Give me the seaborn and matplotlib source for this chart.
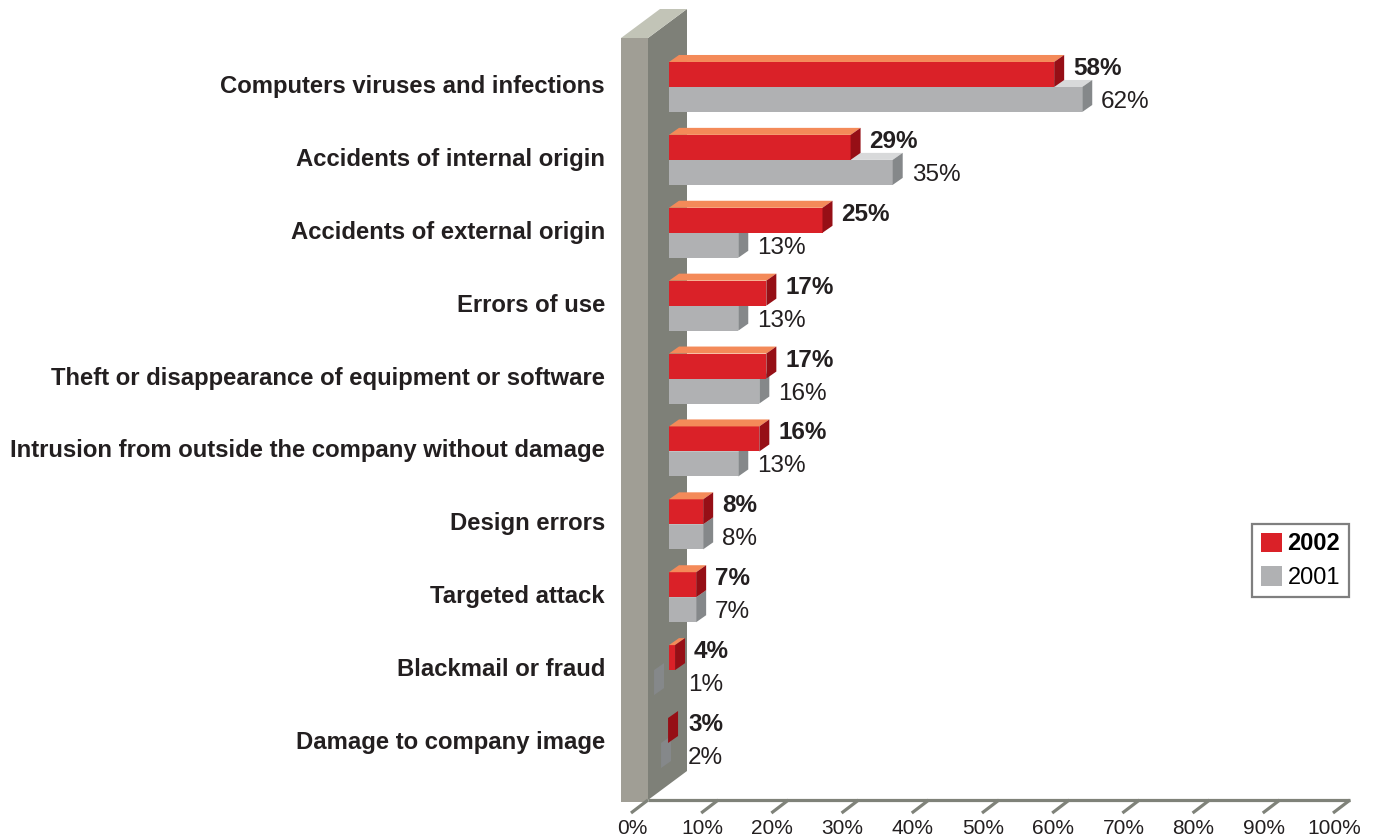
import matplotlib
matplotlib.use("Agg")
import matplotlib.pyplot as plt
import pandas as pd
import seaborn as sns
from matplotlib.patches import Polygon, Patch
from matplotlib.lines import Line2D
from matplotlib.path import Path
from matplotlib.transforms import IdentityTransform, ScaledTranslation

# ---- data ---------------------------------------------------------------
categories = [
    "Computers viruses and infections",
    "Accidents of internal origin",
    "Accidents of external origin",
    "Errors of use",
    "Theft or disappearance of equipment or software",
    "Intrusion from outside the company without damage",
    "Design errors",
    "Targeted attack",
    "Blackmail or fraud",
    "Damage to company image",
]
values_2002 = [58, 29, 25, 17, 17, 16, 8, 7, 4, 3]
values_2001 = [62, 35, 13, 13, 16, 13, 8, 7, 1, 2]
years = ["2002", "2001"]
tick_values = [0, 10, 20, 30, 40, 50, 60, 70, 80, 90, 100]

# ---- styling --------------------------------------------------------------
RED_FRONT, RED_TOP, RED_SIDE = "#da2128", "#f48a59", "#960f16"
GRAY_FRONT, GRAY_TOP, GRAY_SIDE = "#b0b1b3", "#d8d9da", "#85888a"
WALL_FRONT, WALL_SIDE, WALL_TOP = "#a09e95", "#7e8078", "#c2c4b7"
FLOOR = "#7f8279"
TEXT = "#231f20"

sns.set_theme(style="white")
plt.rcParams["font.family"] = ["Liberation Sans", "DejaVu Sans"]

W, H = 1376, 838
fig = plt.figure(figsize=(W / 100, H / 100), dpi=100)
fig.patch.set_facecolor("white")
ax = fig.add_axes([647 / W, 38 / H, 702 / W, 762 / H])

df = pd.DataFrame({
    "category": categories * 2,
    "value": values_2002 + values_2001,
    "year": [years[0]] * len(categories) + [years[1]] * len(categories),
})

sns.barplot(
    data=df, y="category", x="value", hue="year",
    order=categories, hue_order=years, orient="h",
    palette={years[0]: RED_FRONT, years[1]: GRAY_FRONT},
    width=0.686, saturation=1, dodge=True, legend=False,
    linewidth=0, edgecolor="none", ax=ax,
)
bars = list(ax.patches)

ax.set_xlim(0, 100)
ax.set_ylim(9.782, -0.672)
ax.set_facecolor("none")
for s in ax.spines.values():
    s.set_visible(False)
ax.set_xlabel("")
ax.set_ylabel("")
ax.set_xticks([])
ax.set_yticks(range(len(categories)))
ax.set_yticklabels(categories, fontsize=17.2, fontweight="bold", color=TEXT)
ax.tick_params(axis="y", length=0, pad=30.2)
# nudge the category names up a little
for lbl in ax.get_yticklabels():
    lbl.set_transform(lbl.get_transform() +
                      ScaledTranslation(0, 3 / 100, fig.dpi_scale_trans))

ident = IdentityTransform()
X0 = ax.transData.transform((0, 0))[0]          # value zero
Y_FLOOR = ax.transAxes.transform((0, 0))[1]      # floor line
Y_TOP = ax.transAxes.transform((0, 1))[1]        # wall top
X100 = ax.transData.transform((100, 0))[0]

# ---- wall ------------------------------------------------------------------
WDX, WDY = 39, 29
wall_front = Polygon([(X0 - 26, Y_FLOOR - 2), (X0 + 1, Y_FLOOR - 2),
                      (X0 + 1, Y_TOP), (X0 - 26, Y_TOP)],
                     closed=True, transform=ident, facecolor=WALL_FRONT,
                     edgecolor="none", zorder=1, clip_on=False)
wall_side = Polygon([(X0 + 1, Y_FLOOR), (X0 + 1, Y_TOP),
                     (X0 + 1 + WDX, Y_TOP + WDY), (X0 + 1 + WDX, Y_FLOOR + WDY)],
                    closed=True, transform=ident, facecolor=WALL_SIDE,
                    edgecolor="none", zorder=1, clip_on=False)
wall_top = Polygon([(X0 - 26, Y_TOP), (X0 + 1, Y_TOP),
                    (X0 + 1 + WDX, Y_TOP + WDY), (X0 - 26 + WDX, Y_TOP + WDY)],
                   closed=True, transform=ident, facecolor=WALL_TOP,
                   edgecolor="none", zorder=1, clip_on=False)
for p in (wall_front, wall_side, wall_top):
    ax.add_patch(p)

# ---- floor and its ticks ------------------------------------------------
ax.add_line(Line2D([X0 + 1, X100 + 1], [Y_FLOOR, Y_FLOOR], transform=ident,
                   color=FLOOR, lw=2.3, solid_capstyle="butt", zorder=1,
                   clip_on=False))
for v in tick_values:
    xv = ax.transData.transform((v, 0))[0]
    ax.add_line(Line2D([xv + 1, xv - 16], [Y_FLOOR, Y_FLOOR - 13],
                       transform=ident, color=FLOOR, lw=2.3,
                       solid_capstyle="butt", zorder=1, clip_on=False))
    ax.text(xv - 15, Y_FLOOR - 19, f"{v}%", transform=ident, ha="center",
            va="top", fontsize=15, color=TEXT, clip_on=False)

# ---- 3-D bar faces -------------------------------------------------------
DX, DY = 10, 7
X_SIDE = X0 + 22                  # where the bars leave the wall's side face
clip_path = Path([(X_SIDE, -10), (X_SIDE + 4000, -10),
                  (X_SIDE + 4000, 4000), (X_SIDE, 4000), (X_SIDE, -10)],
                 closed=True)

for p in bars:
    bb = p.get_bbox()
    if bb.x1 - bb.x0 <= 0:
        continue
    yc = (bb.y0 + bb.y1) / 2
    is_2002 = yc < round(yc)
    (xa, ya), (xb, yb) = ax.transData.transform([(bb.x0, bb.y0), (bb.x1, bb.y1)])
    Xl, Xr = min(xa, xb), max(xa, xb)
    Yb, Yt = min(ya, yb), max(ya, yb)
    base_z = 3 if is_2002 else 2
    top_c, side_c = (RED_TOP, RED_SIDE) if is_2002 else (GRAY_TOP, GRAY_SIDE)

    p.set_zorder(base_z)
    p.set_clip_path(clip_path, ident)

    # top face starts where the bar comes out of the wall
    Xs = max(Xl, X_SIDE)
    if Xr > Xs:
        top = Polygon([(Xs, Yt), (Xr, Yt), (Xr + DX, Yt + DY), (Xs + DX, Yt + DY)],
                      closed=True, transform=ident, facecolor=top_c,
                      edgecolor="none", zorder=base_z + 0.2, clip_on=False)
        ax.add_patch(top)
    cap = Polygon([(Xr, Yb), (Xr, Yt), (Xr + DX, Yt + DY), (Xr + DX, Yb + DY)],
                  closed=True, transform=ident, facecolor=side_c,
                  edgecolor="none", zorder=base_z + 0.3, clip_on=False)
    ax.add_patch(cap)

    value = bb.x1 - bb.x0
    lx = max(Xr, X_SIDE) + 19
    if is_2002:
        ax.text(lx, Yb + 12, f"{value:.0f}%", transform=ident, ha="left",
                va="baseline", fontsize=17.5, fontweight="bold", color=TEXT,
                zorder=6)
    else:
        ax.text(lx, Yb + 4, f"{value:.0f}%", transform=ident, ha="left",
                va="baseline", fontsize=17.5, color=TEXT, zorder=6)

# ---- legend ---------------------------------------------------------------
handles = [Patch(facecolor=RED_FRONT, edgecolor="none"),
           Patch(facecolor=GRAY_FRONT, edgecolor="none")]
leg = fig.legend(handles, years, loc="upper left",
                 bbox_to_anchor=(1252 / W, 1 - 524 / H),
                 bbox_transform=fig.transFigure, borderaxespad=0,
                 fontsize=17, frameon=True, fancybox=False, framealpha=1,
                 edgecolor="#7f7f7f", facecolor="white",
                 handlelength=0.89, handleheight=0.89, handletextpad=0.25,
                 borderpad=0.36, labelspacing=0.45)
leg.get_frame().set_linewidth(1.6)
leg.get_texts()[0].set_fontweight("bold")
for t in leg.get_texts():
    t.set_color("black")

fig.savefig("out.png", dpi=100, facecolor="white")
